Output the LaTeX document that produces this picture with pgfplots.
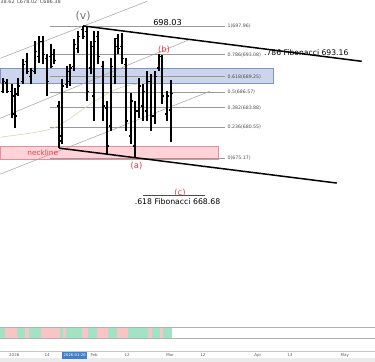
\documentclass[border=0pt]{standalone}
\usepackage{pgfplots}
\pgfplotsset{compat=1.18}
\usepackage{pgfplotstable}
\usepackage{fontspec}
\setmainfont{DejaVu Sans}
\definecolor{fibgray}{HTML}{9A9A9A}
\definecolor{chgray}{HTML}{A0A0A0}
\definecolor{bandblue}{HTML}{CBD5EC}
\definecolor{bandblueedge}{HTML}{7F95C4}
\definecolor{bandpink}{HTML}{FFD3D8}
\definecolor{bandpinkedge}{HTML}{E88C9A}
\definecolor{tvred}{HTML}{E8403F}
\definecolor{magray}{HTML}{D8D5B8}
\definecolor{stripg}{HTML}{A3E3C5}
\definecolor{stripr}{HTML}{F8C4C6}
\definecolor{datebox}{HTML}{3F7FCC}
\pgfplotstableread{
x o h l c
3 686.73 688.98 686.39 688.46
7 688.12 688.81 686.39 686.73
12 686.73 687.94 682.07 682.76
15 685.87 687.25 680.34 682.42
18 686.22 688.98 685.87 687.60
23 688.46 692.26 687.94 691.40
27 691.91 693.30 689.67 690.19
31 689.32 690.71 687.94 690.36
35 690.19 695.37 689.67 693.64
39 692.78 696.23 691.57 695.37
43 695.37 696.23 691.40 693.12
47 692.43 693.12 685.87 688.46
51 692.78 694.85 690.71 691.05
54 693.12 693.99 691.40 692.09
59 684.14 685.01 676.89 678.10
62 678.96 688.81 677.58 687.60
67 687.94 691.05 687.25 690.19
70 688.46 691.40 687.60 690.71
74 691.05 695.71 690.19 694.85
78 694.16 697.10 693.30 696.23
83 697.44 698.03 695.71 696.23
87 697.10 697.96 685.01 686.73
91 690.71 695.37 689.67 694.51
94 685.87 697.10 681.55 695.37
98 696.23 697.10 691.40 692.78
103 691.05 691.91 681.55 684.14
107 683.80 685.01 675.85 677.24
111 680.69 692.43 679.83 691.05
115 689.32 695.89 687.94 694.51
118 695.89 696.58 693.12 694.16
122 694.51 696.75 691.40 692.43
126 691.40 692.43 679.83 681.55
131 678.96 686.39 677.58 685.01
135 677.24 685.01 675.17 683.28
139 683.28 688.98 682.07 687.60
143 684.14 687.94 681.55 686.73
147 683.28 690.19 681.55 688.46
151 688.46 689.67 679.83 682.42
155 682.42 690.19 681.03 689.32
159 690.71 693.16 690.19 692.78
162 692.78 692.95 684.49 685.87
167 682.76 686.73 681.55 685.87
171 683.50 688.62 678.02 686.38
}\ohlc
\newcommand{\fs}[1]{\fontsize{#1}{#1}\selectfont}
\newcommand{\strip}[3]{\addplot[fill=#3, draw=none] coordinates {(#1,644.07) (#1,645.97) (#2,645.97) (#2,644.07)} -- cycle;}
\newcommand{\fib}[2]{\addplot[fibgray, line width=0.5pt] coordinates {(50,#1) (225,#1)};
  \node[anchor=west, inner sep=0pt, text=black!70] at (axis cs:227.5,#1) {\fs{4.7}#2};}
\newcommand{\dlab}[2]{\node[inner sep=0pt, text=black!65] at (axis cs:#1,641.05) {\fs{4}#2};}
\begin{document}
\begin{tikzpicture}
\begin{axis}[scale only axis, width=375bp, height=366bp,
  xmin=0, xmax=375, ymin=639.93, ymax=703.14, hide axis, clip=false]
% bands
\addplot[fill=bandblue, draw=bandblueedge, line width=0.5pt] coordinates {(0,688.12) (0,690.71) (273,690.71) (273,688.12)} -- cycle;
\addplot[fill=bandpink, draw=bandpinkedge, line width=0.5pt] coordinates {(0,674.99) (0,677.23) (218,677.23) (218,674.99)} -- cycle;
% fib levels
\fib{697.96}{1(697.96)}
\fib{693.08}{0.786(693.08)}
\fib{689.25}{0.618(689.25)}
\fib{686.57}{0.5(686.57)}
\fib{683.88}{0.382(683.88)}
\fib{680.55}{0.236(680.55)}
\fib{675.17}{0(675.17)}
% channel lines
\addplot[chgray, line width=0.5pt] coordinates {(0,692.43) (147,702.28)};
\addplot[chgray, line width=0.5pt] coordinates {(0,682.07) (190,695.71)};
\addplot[chgray, line width=0.5pt] coordinates {(0,672.40) (210,686.73)};
% moving average
\addplot[magray, line width=0.6pt, smooth] coordinates {(0,678.79) (30,679.48) (53,680.34) (70,682.07) (90,684.49) (110,686.56) (125,687.60) (150,688.29) (171,688.81)};
% OHLC bars: high-low
\addplot[black, line width=1.9pt, mark=none, quiver={u=0, v=\thisrow{h}-\thisrow{l}}] table[x=x, y=l] {\ohlc};
% open ticks
\addplot[black, line width=1.5pt, mark=none, quiver={u=2, v=0}] table[x expr=\thisrow{x}-2, y=o] {\ohlc};
% close ticks
\addplot[black, line width=1.5pt, mark=none, quiver={u=2, v=0}] table[x=x, y=c] {\ohlc};
% trend lines
\addplot[black, line width=1.5pt] coordinates {(83,698.03) (362,691.91)};
\addplot[black, line width=1.5pt] coordinates {(59,676.89) (337,670.85)};
\addplot[black!70, line width=0.5pt] coordinates {(143,668.68) (205,668.68)};
% texts
\node[inner sep=0pt, text=black!55] at (axis cs:83,699.69) {\fs{11}(v)};
\node[inner sep=0pt] at (axis cs:167.5,698.56) {\fs{8.2}698.03};
\node[inner sep=0pt, text=tvred] at (axis cs:164,693.90) {\fs{8.5}(b)};
\node[anchor=west, inner sep=0pt] at (axis cs:264,693.38) {\fs{7.7}.786 Fibonacci 693.16};
\node[inner sep=0pt, text=tvred] at (axis cs:42.5,676.03) {\fs{7.4}neckline};
\node[inner sep=0pt, text=tvred] at (axis cs:136.5,673.78) {\fs{8.5}(a)};
\node[inner sep=0pt, text=tvred] at (axis cs:180,669.12) {\fs{8.5}(c)};
\node[anchor=west, inner sep=0pt] at (axis cs:134.5,667.56) {\fs{7.8}.618 Fibonacci 668.68};
\node[anchor=west, inner sep=0pt, text=black!70] at (axis cs:0,702.19) {\fs{5}38.62\enspace L678.02\enspace C686.38};
% bottom strip
\strip{0}{5}{stripg}
\strip{5}{17}{stripr}
\strip{17}{25}{stripg}
\strip{25}{29}{stripr}
\strip{29}{41}{stripg}
\strip{41}{60}{stripr}
\strip{60}{63}{stripg}
\strip{63}{66}{stripr}
\strip{66}{82}{stripg}
\strip{82}{88}{stripr}
\strip{88}{97}{stripg}
\strip{97}{108}{stripr}
\strip{108}{117}{stripg}
\strip{117}{128}{stripr}
\strip{128}{148}{stripg}
\strip{148}{152}{stripr}
\strip{152}{160}{stripg}
\strip{160}{163}{stripr}
\strip{163}{172}{stripg}
\addplot[black!30, line width=0.6pt] coordinates {(0,645.97) (375,645.97)};
\addplot[black!30, line width=0.6pt] coordinates {(0,644.07) (375,644.07)};
\addplot[black!22, line width=0.6pt] coordinates {(0,641.83) (375,641.83)};
\addplot[fill=black!8, draw=none] coordinates {(0,639.93) (0,640.53) (375,640.53) (375,639.93)} -- cycle;
% date labels
\addplot[fill=datebox, draw=none] coordinates {(62,640.45) (62,641.66) (87,641.66) (87,640.45)} -- cycle;
\node[inner sep=0pt, text=white] at (axis cs:74.5,641.05) {\fs{3.8}2026-01-26};
\dlab{14}{2026}
\dlab{47}{14}
\dlab{94}{Feb}
\dlab{127}{12}
\dlab{170}{Mar}
\dlab{203}{12}
\dlab{258}{Apr}
\dlab{290}{13}
\dlab{345}{May}
\end{axis}
\end{tikzpicture}
\end{document}
